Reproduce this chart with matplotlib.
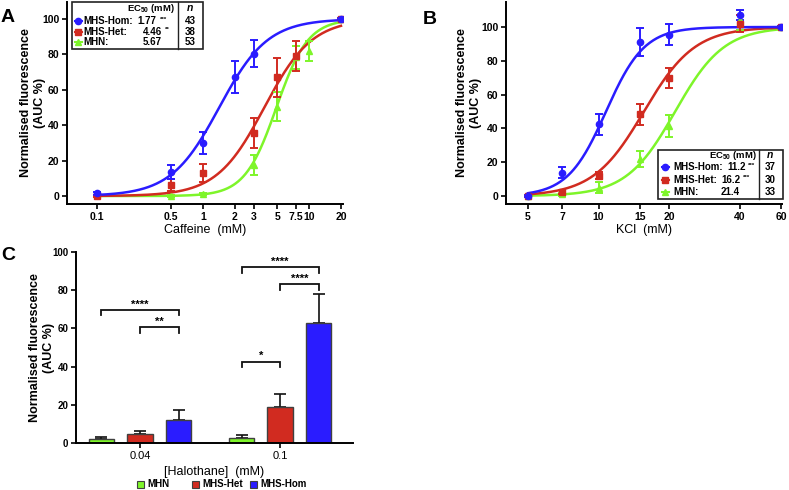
import numpy as np
import matplotlib
matplotlib.use('Agg')
import matplotlib.pyplot as plt
from matplotlib.lines import Line2D
from matplotlib.patches import Rectangle
from matplotlib.ticker import FixedLocator, FixedFormatter, NullLocator

plt.rcParams['font.family'] = ['Liberation Sans', 'DejaVu Sans']
plt.rcParams['mathtext.fontset'] = 'custom'
plt.rcParams['mathtext.rm'] = 'Liberation Sans'
plt.rcParams['mathtext.bf'] = 'Liberation Sans:bold'

BLUE = '#2a1cff'
RED = '#d12b20'
GREEN = '#7ef52a'

# ---- panel A: caffeine ----
caf_hom_x = [0.1, 0.5, 1, 2, 3, 20]
caf_hom_y = [1.5, 13.6, 30, 67, 80.5, 100]
caf_hom_err = [0.8, 4.2, 6.1, 9, 7.4, 0.8]
caf_het_x = [0.1, 0.5, 1, 3, 5, 7.5, 20]
caf_het_y = [0, 6.4, 13, 35.7, 67, 79.3, 100]
caf_het_err = [0.5, 3.5, 5.2, 8.3, 10.8, 8.5, 0.8]
caf_mhn_x = [0.5, 1, 3, 5, 7.5, 10, 20]
caf_mhn_y = [0, 1, 17.5, 50.5, 78.5, 82, 100]
caf_mhn_err = [0.5, 0.6, 5.5, 8, 6.5, 5.5, 0.8]

# dose-response fit curves (mid-point, Hill slope) as drawn in the figure
caf_fit_mid = [1.42, 3.78, 4.92]      # Hom, Het, MHN
caf_fit_slope = [1.9, 1.93, 2.9]

caf_ticks = [0.1, 0.5, 1, 2, 3, 5, 7.5, 10, 20]
caf_ticklabels = ['0.1', '0.5', '1', '2', '3', '5', '7.5', '10', '20']

# ---- panel B: KCl ----
kcl_x = [5, 7, 10, 15, 20, 40, 60]
kcl_hom_y = [0, 13.9, 42.4, 91, 95.5, 107, 100]
kcl_hom_err = [0.5, 3, 6, 8.4, 6.2, 3, 0.5]
kcl_het_y = [0, 2.5, 12, 48.5, 70, 102, 100]
kcl_het_err = [0.5, 1, 2, 6.2, 5.9, 5, 0.5]
kcl_mhn_y = [0, 1, 5, 22, 41.5, 104, 100]
kcl_mhn_err = [0.3, 0.8, 3.4, 4.9, 6.4, 6, 0.5]

kcl_fit_mid = [10.75, 15.6, 21.2]
kcl_fit_slope = [5.3, 4.0, 4.17]

kcl_ticks = [5, 7, 10, 15, 20, 40, 60]

# ---- legend tables ----
groups = ['MHS-Hom:', 'MHS-Het:', 'MHN:']
caf_ec50 = ['1.77', '4.46', '5.67']
caf_stars = ['***', '**', '']
caf_n = ['43', '38', '53']
kcl_ec50 = ['11.2', '16.2', '21.4']
kcl_stars = ['***', '***', '']
kcl_n = ['37', '30', '33']

# ---- panel C: halothane ----
halo_labels = ['0.04', '0.1']
halo_mhn = [2.1, 2.7]
halo_mhn_err = [1.0, 1.4]
halo_het = [4.8, 18.9]
halo_het_err = [1.4, 6.6]
halo_hom = [12.2, 62.9]
halo_hom_err = [5.4, 15.2]
# significance brackets: (group, bar from, bar to, height, label)
sig_brackets = [(0, 0, 2, 69.6, '****'), (0, 1, 2, 60.5, '**'),
                (1, 0, 2, 91.8, '****'), (1, 1, 2, 83.0, '****'),
                (1, 0, 1, 42.6, '*')]

W, H = 789, 490
fig = plt.figure(figsize=(W / 100, H / 100), dpi=100)


def fx(px):
    return px / W


def fy(py):
    return 1 - py / H


def hill(x, mid, slope):
    return 100.0 / (1.0 + (mid / x) ** slope)


def style_axes(ax):
    for s in ['top', 'right']:
        ax.spines[s].set_visible(False)
    for s in ['left', 'bottom']:
        ax.spines[s].set_linewidth(1.4)
    ax.tick_params(direction='out', length=3.5, width=1.2, labelsize=7.5, pad=2)
    for lab in ax.get_yticklabels():
        lab.set_fontweight('bold')


def dose_panel(ax, series, mids, slopes, xmin, xmax):
    xx = np.geomspace(xmin, xmax, 300)
    for (x, y, e, c, m), mid, sl in zip(series, mids, slopes):
        ax.plot(xx, hill(xx, mid, sl), color=c, lw=1.8, zorder=2)
        ax.errorbar(x, y, yerr=e, fmt=m, color=c, ms=4.5, capsize=3,
                    elinewidth=1.4, capthick=1.4, zorder=3)


def legend_table(box, div, head_right, n_x, head_y, rows_y, mk_x, lab_x,
                 val_x, star_x, ec50, stars, ns):
    x0, y0, x1, y1 = box
    fig.add_artist(Rectangle((fx(x0), fy(y1)), fx(x1) - fx(x0), fy(y0) - fy(y1),
                             transform=fig.transFigure, fill=False,
                             lw=1.2, ec='#222222'))
    fig.add_artist(Line2D([fx(div), fx(div)], [fy(y0), fy(y1)],
                          transform=fig.transFigure, lw=1.0, color='#222222'))
    fig.text(fx(head_right), fy(head_y), r'EC$_{\mathbf{50}}$ (mM)', ha='right',
             va='center', fontsize=6.8, fontweight='bold')
    fig.text(fx(n_x), fy(head_y), 'n', ha='center', va='center', fontsize=7.5,
             fontweight='bold', style='italic')
    cols = [BLUE, RED, GREEN]
    mks = ['o', 's', '^']
    for i in range(3):
        y = fy(rows_y[i])
        fig.add_artist(Line2D([fx(mk_x - 3.5), fx(mk_x + 3.5)], [y, y],
                              transform=fig.transFigure, color=cols[i], lw=1.5))
        fig.add_artist(Line2D([fx(mk_x)], [y], transform=fig.transFigure,
                              color=cols[i], marker=mks[i], ms=4.5))
        fig.text(fx(lab_x), y, groups[i], ha='left', va='center', fontsize=7,
                 fontweight='bold')
        fig.text(fx(val_x[i]), y, ec50[i], ha='left', va='center', fontsize=7,
                 fontweight='bold')
        if stars[i]:
            fig.text(fx(star_x[i]), y + 0.004, stars[i], ha='left', va='center',
                     fontsize=4.5, fontweight='bold')
        fig.text(fx(n_x), y, ns[i], ha='center', va='center', fontsize=7,
                 fontweight='bold')


# ---- A ----
axA = fig.add_axes([fx(67), fy(204), fx(276), 202 / H])
dose_panel(axA,
           [(caf_hom_x, caf_hom_y, caf_hom_err, BLUE, 'o'),
            (caf_het_x, caf_het_y, caf_het_err, RED, 's'),
            (caf_mhn_x, caf_mhn_y, caf_mhn_err, GREEN, '^')][::-1],
           caf_fit_mid[::-1], caf_fit_slope[::-1], 0.1, 20)
axA.set_xscale('log')
axA.set_xlim(0.0521, 20.9)
axA.set_ylim(-4.5, 109.6)
axA.xaxis.set_major_locator(FixedLocator(caf_ticks))
axA.xaxis.set_major_formatter(FixedFormatter(caf_ticklabels))
axA.xaxis.set_minor_locator(NullLocator())
axA.set_yticks([0, 20, 40, 60, 80, 100])
style_axes(axA)
for lab in axA.get_xticklabels():
    lab.set_fontweight('bold')
axA.set_xlabel('Caffeine  (mM)', fontsize=9, labelpad=2)
axA.set_ylabel('Normalised fluorescence\n(AUC %)', fontsize=9, fontweight='bold')
axA.yaxis.set_label_coords(-0.075, 0.5)

# ---- B ----
axB = fig.add_axes([fx(506), fy(204), fx(276), 202 / H])
dose_panel(axB,
           [(kcl_x, kcl_hom_y, kcl_hom_err, BLUE, 'o'),
            (kcl_x, kcl_het_y, kcl_het_err, RED, 's'),
            (kcl_x, kcl_mhn_y, kcl_mhn_err, GREEN, '^')][::-1],
           kcl_fit_mid[::-1], kcl_fit_slope[::-1], 5, 60)
axB.set_xscale('log')
axB.set_xlim(4.03, 60.5)
axB.set_ylim(-4.7, 114.8)
axB.xaxis.set_major_locator(FixedLocator(kcl_ticks))
axB.xaxis.set_major_formatter(FixedFormatter([str(t) for t in kcl_ticks]))
axB.xaxis.set_minor_locator(NullLocator())
axB.set_yticks([0, 20, 40, 60, 80, 100])
style_axes(axB)
for lab in axB.get_xticklabels():
    lab.set_fontweight('bold')
axB.set_xlabel('KCl  (mM)', fontsize=9, labelpad=2)
axB.set_ylabel('Normalised fluorescence\n(AUC %)', fontsize=9, fontweight='bold')
axB.yaxis.set_label_coords(-0.088, 0.5)

# ---- C ----
axC = fig.add_axes([fx(76), fy(443.3), fx(277), 191.6 / H])
pos = np.arange(len(halo_labels))
off, bw = 0.275, 0.18
bar_sets = [(halo_mhn, halo_mhn_err, GREEN), (halo_het, halo_het_err, RED),
            (halo_hom, halo_hom_err, BLUE)]
for k, (vals, errs, c) in enumerate(bar_sets):
    xs = pos + (k - 1) * off
    axC.bar(xs, vals, bw, color=c, edgecolor='#404040', lw=1.0, zorder=2)
    axC.errorbar(xs, vals, yerr=[np.zeros(len(errs)), errs], fmt='none',
                 ecolor='#111111', elinewidth=1.2, capsize=4, capthick=1.2,
                 zorder=1)
for g, a, b, h, lab in sig_brackets:
    xa = pos[g] + (a - 1) * off
    xb = pos[g] + (b - 1) * off
    axC.plot([xa, xa, xb, xb], [h - 2.8, h, h, h - 2.8], color='#111111',
             lw=1.3, solid_joinstyle='miter', clip_on=False)
    axC.text((xa + xb) / 2, h + 0.3, lab, ha='center', va='bottom',
             fontsize=8, fontweight='bold')
axC.set_xlim(-0.457, 1.521)
axC.set_ylim(0, 100)
axC.set_xticks(pos)
axC.set_xticklabels(halo_labels)
axC.set_yticks([0, 20, 40, 60, 80, 100])
style_axes(axC)
axC.tick_params(axis='x', labelsize=8)
axC.tick_params(axis='y', labelsize=7)
for lab in axC.get_yticklabels():
    lab.set_fontweight('bold')
axC.set_xlabel('[Halothane]  (mM)', fontsize=9, labelpad=4)
axC.set_ylabel('Normalised fluorescence\n(AUC %)', fontsize=9, fontweight='bold')
axC.yaxis.set_label_coords(-0.076, 0.5)

# legend for C
leg_items = [('MHN', GREEN, 140, 147), ('MHS-Het', RED, 195, 202),
             ('MHS-Hom', BLUE, 253, 260)]
for name, c, sx, tx in leg_items:
    fig.add_artist(Rectangle((fx(sx - 3.5), fy(487.5)), 7 / W, 7 / H,
                             transform=fig.transFigure, fc=c, ec='#404040', lw=0.8))
    fig.text(fx(tx), fy(484), name, ha='left', va='center', fontsize=7,
             fontweight='bold')

legend_table((71.7, 1.7, 203, 49), 178, 175, 190, 8.3, [21, 31.7, 42.3], 78, 83,
             [137.7, 143, 143], [159.5, 164.5, 0], caf_ec50, caf_stars, caf_n)
legend_table((658.3, 150.5, 782.7, 199.3), 759.3, 756.7, 770, 155.5,
             [167, 179.5, 191.5], 665, 673, [727, 721, 721],
             [747.5, 743, 0], kcl_ec50, kcl_stars, kcl_n)

# panel letters
fig.text(fx(1), fy(18), 'A', fontsize=14, fontweight='bold', va='center')
fig.text(fx(423), fy(20), 'B', fontsize=14, fontweight='bold', va='center')
fig.text(fx(1), fy(255), 'C', fontsize=14, fontweight='bold', va='center')

fig.savefig('out.png', dpi=100)
